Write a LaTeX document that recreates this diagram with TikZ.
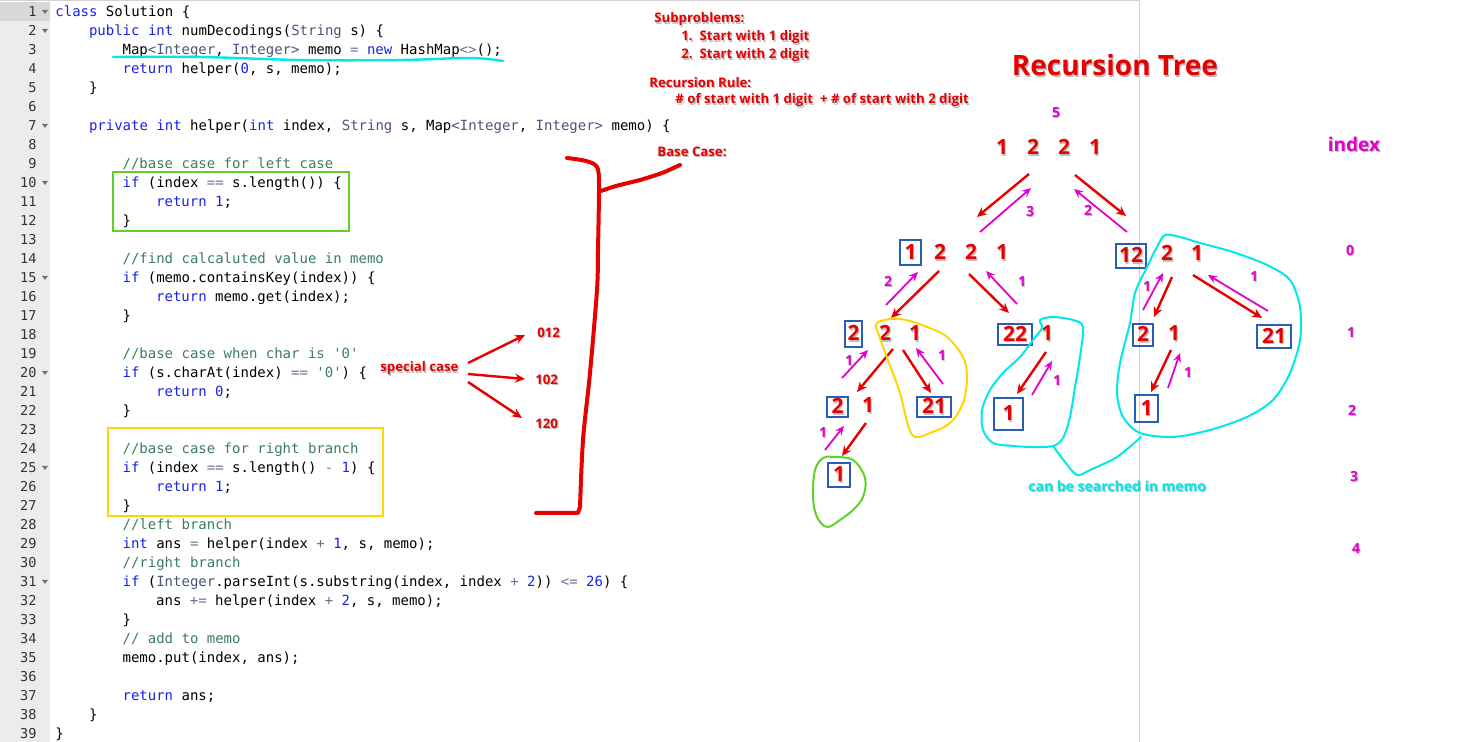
\documentclass[tikz,border=0pt]{standalone}
\usepackage{fontspec}
\setmainfont{Open Sans}
\newfontfamily\codefont{DejaVu Sans Mono}
\usetikzlibrary{arrows.meta}
\definecolor{ared}{RGB}{230,0,0}
\definecolor{amag}{RGB}{225,0,205}
\definecolor{acyan}{RGB}{0,232,232}
\definecolor{ablue}{RGB}{40,95,180}
\definecolor{agreen}{RGB}{95,210,40}
\definecolor{ayellow}{RGB}{255,215,0}
\definecolor{ckw}{RGB}{25,35,235}
\definecolor{cty}{RGB}{75,85,125}
\definecolor{ccm}{RGB}{60,125,95}
\definecolor{cop}{RGB}{110,110,150}
\definecolor{gutterc}{RGB}{236,236,236}
\definecolor{gutterh}{RGB}{216,216,216}
\definecolor{framec}{RGB}{210,210,210}
\definecolor{shdc}{RGB}{190,190,190}
\newcommand\Kw[1]{\textcolor{ckw}{#1}}
\newcommand\Ty[1]{\textcolor{cty}{#1}}
\newcommand\Cm[1]{\textcolor{ccm}{#1}}
\newcommand\Op[1]{\textcolor{cop}{#1}}
\newcommand\Nu[1]{\textcolor{ckw}{#1}}
\newcommand\sq{\char"0027\relax}
\newcommand\shd[1]{\leavevmode\rlap{\hspace{0.6pt}\raisebox{-0.6pt}{\textcolor{shdc}{#1}}}#1}
\newcommand\cl[3]{\node[codeline] (c#1) at ({55+#2*8.4},{13+(#1-1)*19}) {#3};}
\tikzset{
  codeline/.style={anchor=west, inner sep=0, text height=5.5pt, text depth=1.5pt, font=\codefont\fontsize{7pt}{8pt}\selectfont, text=black},
  lnum/.style={anchor=east, inner sep=0, text height=5.5pt, text depth=1.5pt, font=\codefont\fontsize{6.8pt}{8pt}\selectfont, text=black!80},
  ann/.style={anchor=west, inner sep=0, font=\bfseries\fontsize{6.6pt}{8pt}\selectfont, text=ared},
  tdig/.style={inner sep=0, font=\bfseries\fontsize{10.5pt}{12pt}\selectfont, text=ared},
  bx/.style={draw=ablue, line width=1pt},
  mlab/.style={inner sep=0, font=\bfseries\fontsize{7pt}{8pt}\selectfont, text=amag},
  redarr/.style={draw=ared, line width=1.2pt, -{Stealth[length=5pt,width=4.5pt]}},
  magarr/.style={draw=amag, line width=0.9pt, -{Stealth[length=4.5pt,width=4pt]}},
  blob/.style={line width=1pt, line cap=round, line join=round}
}
\begin{document}
\begin{tikzpicture}[x=0.5pt,y=-0.5pt]
\useasboundingbox (0,0) rectangle (1484,742);
\fill[white] (0,0) rectangle (1484,742);
% editor
\fill[gutterc] (0,2) rectangle (50,742);
\fill[gutterh] (0,2) rectangle (50,21);
\draw[framec, line width=0.5pt] (0,1) -- (1139.5,1);
\draw[framec, line width=0.5pt] (1139.5,0) -- (1139.5,742);
\foreach \n in {1,...,39} \node[lnum] (n\n) at (37,{13+(\n-1)*19}) {\n};
\foreach \n in {1,2,7,10,15,20,25,31} \fill[black!55] (42,{10+(\n-1)*19}) -- (48,{10+(\n-1)*19}) -- (45,{14+(\n-1)*19}) -- cycle;
% code
\cl{1}{0}{\Kw{class} Solution \{}
\cl{2}{4}{\Kw{public} \Kw{int} numDecodings(\Ty{String} s) \{}
\cl{3}{8}{Map\Ty{<Integer}, \Ty{Integer>} memo \Op{=} \Kw{new} HashMap\Op{<>}();}
\cl{4}{8}{\Kw{return} helper(\Nu{0}, s, memo);}
\cl{5}{4}{\}}
\cl{7}{4}{\Kw{private} \Kw{int} helper(\Kw{int} index, \Ty{String} s, Map\Ty{<Integer}, \Ty{Integer>} memo) \{}
\cl{9}{8}{\Cm{//base case for left case}}
\cl{10}{8}{\Kw{if} (index \Op{==} s.length()) \{}
\cl{11}{12}{\Kw{return} \Nu{1};}
\cl{12}{8}{\}}
\cl{14}{8}{\Cm{//find calcaluted value in memo}}
\cl{15}{8}{\Kw{if} (memo.containsKey(index)) \{}
\cl{16}{12}{\Kw{return} memo.get(index);}
\cl{17}{8}{\}}
\cl{19}{8}{\Cm{//base case when char is \sq0\sq}}
\cl{20}{8}{\Kw{if} (s.charAt(index) \Op{==} \Cm{\sq0\sq}) \{}
\cl{21}{12}{\Kw{return} \Nu{0};}
\cl{22}{8}{\}}
\cl{24}{8}{\Cm{//base case for right branch}}
\cl{25}{8}{\Kw{if} (index \Op{==} s.length() \Op{-} \Nu{1}) \{}
\cl{26}{12}{\Kw{return} \Nu{1};}
\cl{27}{8}{\}}
\cl{28}{8}{\Cm{//left branch}}
\cl{29}{8}{\Kw{int} ans \Op{=} helper(index \Op{+} \Nu{1}, s, memo);}
\cl{30}{8}{\Cm{//right branch}}
\cl{31}{8}{\Kw{if} (\Ty{Integer}.parseInt(s.substring(index, index \Op{+} \Nu{2})) \Op{<=} \Nu{26}) \{}
\cl{32}{12}{ans \Op{+=} helper(index \Op{+} \Nu{2}, s, memo);}
\cl{33}{8}{\}}
\cl{34}{8}{\Cm{// add to memo}}
\cl{35}{8}{memo.put(index, ans);}
\cl{37}{8}{\Kw{return} ans;}
\cl{38}{4}{\}}
\cl{39}{0}{\}}
% highlight marks on code
\draw[acyan, blob, line width=1.2pt] plot[smooth, tension=0.6] coordinates {(113,57) (200,57) (300,60) (400,60) (470,58) (503,61)};
\draw[agreen, line width=1.1pt] (113,172) rectangle (349,231);
\draw[ayellow, line width=1.1pt] (108,428) rectangle (383,516);
% red bracket
\draw[ared, blob, line width=2pt] plot[smooth, tension=0.5] coordinates {(567,158) (586,161) (597,167) (599,185) (598,250) (597,290) (590,373) (583,440) (580,507)} -- (578,513) -- (536,513);
\draw[ared, blob, line width=2pt] plot[smooth, tension=0.5] coordinates {(601,191) (616,186) (640,180) (662,173) (680,165)};
% annotations
\node[ann] (sub) at (654,20) {\shd{Subproblems:}};
\node[ann] (sub1) at (681,38) {\shd{1.\ \ Start with 1 digit}};
\node[ann] (sub2) at (681,56) {\shd{2.\ \ Start with 2 digit}};
\node[ann] (rr) at (649,83) {\shd{Recursion Rule:}};
\node[ann] (rrtxt) at (675,101) {\shd{\# of start with 1 digit\ \ + \# of start with 2 digit}};
\node[ann] (bc) at (657,152) {\shd{Base Case:}};
\node[ann] (sc) at (380,369) {\shd{special case}};
\node[ann] (s012) at (537,333) {\shd{012}};
\node[ann] (s102) at (535,380) {\shd{102}};
\node[ann] (s120) at (535,424) {\shd{120}};
\draw[redarr] (468,363) -- (525,335);
\draw[redarr] (468,374) -- (525,379);
\draw[redarr] (468,382) -- (522,418);
% title
\node[inner sep=0, font=\bfseries\fontsize{14pt}{16pt}\selectfont, text=ared] (title) at (1115,66) {\shd{Recursion Tree}};
\node[mlab] (five) at (1056,113) {\shd{5}};
\node[inner sep=0, font=\bfseries\fontsize{9.5pt}{11pt}\selectfont, text=amag] (idx) at (1354,145) {\shd{index}};
\node[mlab] (i0) at (1350,251) {\shd{0}};
\node[mlab] (i1) at (1351,333) {\shd{1}};
\node[mlab] (i2) at (1352,411) {\shd{2}};
\node[mlab] (i3) at (1354,477) {\shd{3}};
\node[mlab] (i4) at (1356,549) {\shd{4}};
% tree: root
\node[tdig] (r1) at (1002,148) {\shd{1}};
\node[tdig] (r2) at (1033,148) {\shd{2}};
\node[tdig] (r3) at (1064,148) {\shd{2}};
\node[tdig] (r4) at (1095,148) {\shd{1}};
% level 1 left
\node[tdig,bx,minimum width=10.5pt,minimum height=12.5pt] (a1) at (910.5,252.5) {\shd{1}};
\node[tdig] (a2) at (940,253) {\shd{2}};
\node[tdig] (a3) at (971,253) {\shd{2}};
\node[tdig] (a4) at (1002,253) {\shd{1}};
% level 1 right
\node[tdig,bx,minimum width=15pt,minimum height=12pt] (b1) at (1131,256) {\shd{12}};
\node[tdig] (b2) at (1167,254) {\shd{2}};
\node[tdig] (b3) at (1197,254) {\shd{1}};
% level 2
\node[tdig,bx,minimum width=8.5pt,minimum height=13pt] (c1) at (853.5,334) {\shd{2}};
\node[tdig] (c2) at (885,334) {\shd{2}};
\node[tdig] (c3) at (915,334) {\shd{1}};
\node[tdig,bx,minimum width=17pt,minimum height=10.5pt] (d1) at (1015,334.5) {\shd{22}};
\node[tdig] (d2) at (1047,334) {\shd{1}};
\node[tdig,bx,minimum width=10pt,minimum height=11pt] (e1) at (1143,335) {\shd{2}};
\node[tdig] (e2) at (1174,334) {\shd{1}};
\node[tdig,bx,minimum width=17pt,minimum height=11.5pt] (f1) at (1274,336.5) {\shd{21}};
% level 3
\node[tdig,bx,minimum width=10.5pt,minimum height=10pt] (g1) at (837.5,407) {\shd{2}};
\node[tdig] (g2) at (868,406) {\shd{1}};
\node[tdig,bx,minimum width=17pt,minimum height=10pt] (h1) at (934,407) {\shd{21}};
\node[tdig,bx,minimum width=14.5pt,minimum height=16pt] (k1) at (1008.5,414) {\shd{1}};
\node[tdig,bx,minimum width=11.5pt,minimum height=13.5pt] (m1) at (1146.5,408.5) {\shd{1}};
% level 4
\node[tdig,bx,minimum width=11pt,minimum height=12pt] (p1) at (839,475) {\shd{1}};
% red arrows
\draw[redarr] (1029,174) -- (977,217);
\draw[redarr] (1075,175) -- (1126,216);
\draw[redarr] (939,271) -- (891,318);
\draw[redarr] (969,274) -- (1009,313);
\draw[redarr] (893,349) -- (857,392);
\draw[redarr] (903,350) -- (931,393);
\draw[redarr] (866,423) -- (842,456);
\draw[redarr] (1046,352) -- (1017,394);
\draw[redarr] (1172,277) -- (1154,317);
\draw[redarr] (1193,275) -- (1262,318);
\draw[redarr] (1171,350) -- (1151,392);
% magenta arrows
\draw[magarr] (980,232) -- (1031,188);
\draw[magarr] (1127,232) -- (1074,189);
\draw[magarr] (886,305) -- (918,272);
\draw[magarr] (1017,304) -- (986,271);
\draw[magarr] (842,378) -- (868,350);
\draw[magarr] (943,384) -- (916,348);
\draw[magarr] (825,450) -- (844,426);
\draw[magarr] (1032,395) -- (1052,361);
\draw[magarr] (1143,310) -- (1163,273);
\draw[magarr] (1268,311) -- (1208,275);
\draw[magarr] (1168,388) -- (1180,353);
% magenta labels
\node[mlab] (l1) at (1030,212) {\shd{3}};
\node[mlab] (l2) at (1088,211) {\shd{2}};
\node[mlab] (l3) at (888,282) {\shd{2}};
\node[mlab] (l4) at (1022,282) {\shd{1}};
\node[mlab] (l5) at (849,361) {\shd{1}};
\node[mlab] (l6) at (942,356) {\shd{1}};
\node[mlab] (l7) at (823,433) {\shd{1}};
\node[mlab] (l8) at (1057,381) {\shd{1}};
\node[mlab] (l9) at (1147,287) {\shd{1}};
\node[mlab] (l10) at (1254,277) {\shd{1}};
\node[mlab] (l11) at (1188,373) {\shd{1}};
% blobs
\draw[ayellow, blob] plot[smooth cycle, tension=0.6] coordinates {(877,323) (900,319) (927,327) (947,337) (963,357) (967,377) (963,403) (950,423) (930,433) (915,437) (908,425) (900,393) (889,363) (880,338)};
\draw[agreen, blob] plot[smooth cycle, tension=0.6] coordinates {(833,457) (853,460) (865,478) (863,497) (853,510) (840,520) (827,527) (817,517) (813,497) (815,470) (823,458)};
\draw[acyan, blob] plot[smooth cycle, tension=0.5] coordinates {(1040,320) (1053,317) (1073,320) (1083,327) (1080,357) (1075,387) (1070,417) (1063,438) (1053,446) (1033,447) (1013,446) (993,443) (983,430) (982,410) (990,390) (1003,373) (1020,357) (1033,340) (1042,328)};
\draw[acyan, blob] plot[smooth, tension=0.5] coordinates {(1053,446) (1065,462) (1077,475) (1090,470) (1117,457) (1141,437)};
\draw[acyan, blob] plot[smooth cycle, tension=0.5] coordinates {(1165,235) (1180,237) (1200,243) (1233,252) (1267,265) (1290,280) (1300,307) (1300,340) (1290,373) (1273,400) (1247,417) (1210,430) (1173,437) (1140,433) (1123,417) (1117,393) (1120,363) (1130,323) (1135,293) (1147,267) (1157,247)};
\node[anchor=west, inner sep=0, font=\bfseries\fontsize{7pt}{8pt}\selectfont, text=acyan] (memo) at (1028,487) {\shd{can be searched in memo}};
\end{tikzpicture}
\end{document}
